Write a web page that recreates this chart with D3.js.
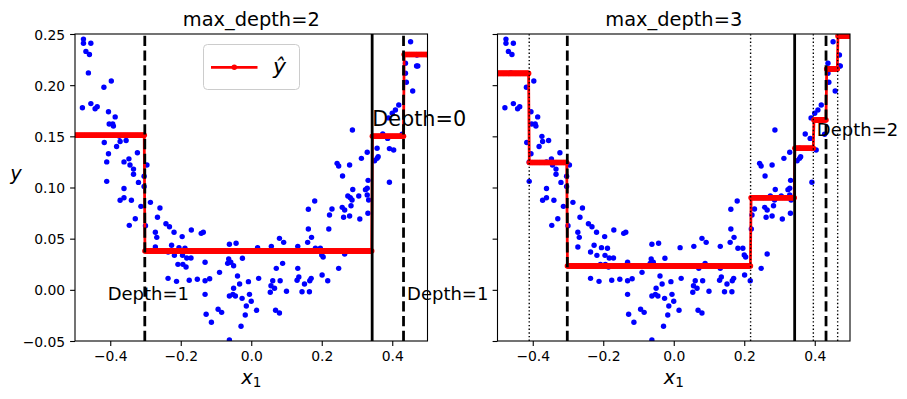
<!DOCTYPE html>
<html><head><meta charset="utf-8">
<script src="https://cdn.jsdelivr.net/npm/d3@7"></script>
<style>body{margin:0;background:#fff}svg{display:block}</style>
</head><body><svg id="c" width="907" height="399"></svg>
<script>
// ---------- data ----------
const xTicks = [-0.4, -0.2, 0, 0.2, 0.4];
const xTickLabels = ["\u22120.4", "\u22120.2", "0.0", "0.2", "0.4"];
const yTicks = [-0.05, 0, 0.05, 0.1, 0.15, 0.2, 0.25];
const yTickLabels = ["\u22120.05", "0.00", "0.05", "0.10", "0.15", "0.20", "0.25"];
const titles = ["max_depth=2", "max_depth=3"];

const pointsX = [
 -0.476,-0.476,-0.455,-0.469,-0.459,-0.462,-0.397,-0.418,-0.479,-0.455,-0.443,-0.437,-0.405,-0.386,-0.403,-0.393,-0.391,-0.417,-0.372,-0.355,-0.382,-0.405,-0.323,-0.410,-0.361,-0.347,-0.344,-0.334,-0.334,-0.296,-0.410,-0.320,-0.361,-0.304,-0.304,-0.374,
 -0.372,-0.361,-0.340,-0.313,-0.286,-0.259,-0.329,-0.346,-0.266,-0.300,-0.242,-0.232,-0.272,-0.268,-0.219,-0.196,-0.170,-0.272,-0.226,-0.205,-0.188,-0.218,-0.195,-0.183,-0.171,-0.208,-0.194,-0.185,-0.236,-0.212,-0.176,-0.236,
 -0.142,-0.136,-0.131,-0.153,-0.131,-0.118,-0.131,-0.090,-0.062,-0.043,-0.025,-0.064,-0.067,-0.058,-0.050,-0.039,-0.033,-0.050,-0.062,-0.052,-0.045,-0.026,-0.008,-0.005,0.000,-0.014,-0.128,-0.113,-0.094,-0.084,-0.029,-0.062,-0.017,0.015,0.021,0.018,0.057,0.080,0.092,0.071,0.089,0.061,0.056,0.066,0.054,0.082,0.100,0.069,0.080,0.132,0.132,0.135,0.130,0.144,0.151,0.165,0.166,0.170,0.160,0.171,0.162,0.162,0.180,0.182,
 0.288,0.324,0.329,0.274,0.281,0.305,0.286,0.329,0.333,0.229,0.222,0.258,0.265,0.262,0.279,0.283,0.308,0.331,0.220,0.200,0.204,0.196,0.265,0.248,0.201,0.217,
 0.452,0.4375,0.469,0.4725,0.4375,0.440,0.458,0.4185,0.409,0.400,0.287,0.373,0.357,0.392,0.404,0.329,0.3125,0.357,0.360,0.350,0.2435,0.248,0.279,0.259,0.392,0.3315,
 0.470,0.3895,0.387,0.428
];
const pointsY = [
 0.245,0.241,0.241,0.233,0.230,0.212,0.204,0.198,0.178,0.182,0.177,0.179,0.174,0.169,0.162,0.162,0.160,0.144,0.145,0.146,0.140,0.133,0.134,0.125,0.125,0.128,0.122,0.118,0.113,0.122,0.106,0.105,0.099,0.111,0.101,0.150,
 0.0875,0.090,0.0875,0.0816,0.0855,0.080,0.0695,0.063,0.071,0.0627,0.0646,0.0617,0.0562,0.0513,0.0562,0.052,0.0585,0.0419,0.0435,0.0412,0.0406,0.0337,0.0337,0.0311,0.0311,0.0249,0.0249,0.0223,0.0112,0.0083,0.0093,0.037,
 0.0552,0.0562,0.0269,0.0103,0.0089,0.0109,-0.0044,0.0171,0.0445,0.0455,0.0308,0.0301,0.0259,0.0269,0.0236,0.0135,0.0057,0.0015,-0.006,-0.0044,-0.006,-0.0083,0.008,-0.0044,-0.0112,-0.0158,-0.0239,-0.0317,-0.019,-0.022,-0.0356,-0.049,-0.0246,-0.020,0.0112,0.0412,0.0425,0.0503,0.0464,0.021,0.0259,0.0089,0.004,0.0015,-0.0024,0.0089,-0.0014,-0.020,-0.0226,0.0425,0.021,0.0125,0.0093,-0.0018,0.0057,-0.0018,0.0089,0.0112,0.0464,0.0513,0.0594,0.0787,0.0868,0.0406,
 0.098,0.0979,0.0992,0.0917,0.090,0.0917,0.0878,0.0927,0.0878,0.079,0.0731,0.0806,0.078,0.071,0.0722,0.0822,0.0692,0.0748,0.0594,0.034,0.0321,0.0406,0.035,0.021,0.0145,0.0089,
 0.2425,0.2214,0.2187,0.2187,0.2116,0.2028,0.1943,0.1806,0.1757,0.1725,0.1562,0.1523,0.1383,0.138,0.1367,0.1344,0.1285,0.1285,0.130,0.1262,0.1236,0.121,0.122,0.1112,0.1051,0.107,
 0.2295,0.168,0.148,0.152
];

// tree splits and leaf values
const depth2Thresholds = [-0.302, 0.343, 0.432];
const depth2Values = [0.151, 0.038, 0.150, 0.230];
const depth3Thresholds = [-0.410, -0.302, 0.218, 0.343, 0.396, 0.432, 0.465];
const depth3Values = [0.2115, 0.1245, 0.0233, 0.090, 0.1383, 0.166, 0.2158, 0.248];
const mainSplits = [0.343, -0.302, 0.432];         // th0, th1a, th1b
const mainSplitStyles = ["solid", "dashed", "dashed"];
const depth2Splits = [-0.410, 0.218, 0.396, 0.465];

// ---------- drawing ----------
const svg = d3.select("#c");
const FONT = "DejaVu Sans, Verdana, sans-serif";
const TOPY = 34, BOTY = 341, W = 352.5;
const panels = [{x0: 75, thr: depth2Thresholds, val: depth2Values},
                {x0: 497.5, thr: depth3Thresholds, val: depth3Values}];

const y = d3.scaleLinear().domain([-0.05, 0.25]).range([BOTY, TOPY]);
const samples = d3.range(500).map(i => -0.5 + i / 499);

panels.forEach((p, k) => {
  const x = d3.scaleLinear().domain([-0.5, 0.5]).range([p.x0, p.x0 + W]);
  const g = svg.append("g");
  const clipId = "clip" + k;
  svg.append("clipPath").attr("id", clipId).append("rect")
     .attr("x", p.x0).attr("y", TOPY).attr("width", W).attr("height", BOTY - TOPY);
  const plot = g.append("g").attr("clip-path", `url(#${clipId})`);

  plot.selectAll("circle.pt").data(pointsX).join("circle").attr("class", "pt")
     .attr("cx", d => x(d)).attr("cy", (d, i) => y(pointsY[i])).attr("r", 2.7).attr("fill", "#0000ff");

  const pred = samples.map(s => [s, p.val[d3.bisectRight(p.thr, s)]]);
  plot.append("path").attr("d", d3.line().x(d => x(d[0])).y(d => y(d[1]))(pred))
     .attr("fill", "none").attr("stroke", "#ff0000").attr("stroke-width", 2.78);
  plot.selectAll("circle.pr").data(pred).join("circle").attr("class", "pr")
     .attr("cx", d => x(d[0])).attr("cy", d => y(d[1])).attr("r", 2.78).attr("fill", "#ff0000");

  mainSplits.forEach((s, i) => {
    plot.append("line").attr("x1", x(s)).attr("x2", x(s)).attr("y1", y(-0.05)).attr("y2", y(0.25))
      .attr("stroke", "#000").attr("stroke-width", 2.78)
      .attr("stroke-dasharray", mainSplitStyles[i] === "dashed" ? "10.3,4.45" : null);
  });
  if (k === 1) {
    depth2Splits.forEach(s => {
      plot.append("line").attr("x1", x(s)).attr("x2", x(s)).attr("y1", y(-0.05)).attr("y2", y(0.25))
        .attr("stroke", "#000").attr("stroke-width", 1.39).attr("stroke-dasharray", "1.39,2.29");
    });
  }

  g.append("rect").attr("x", p.x0).attr("y", TOPY).attr("width", W).attr("height", BOTY - TOPY)
    .attr("fill", "none").attr("stroke", "#000").attr("stroke-width", 1.1);

  const xa = g.append("g").attr("transform", `translate(0,${BOTY})`)
    .call(d3.axisBottom(x).tickValues(xTicks).tickSize(4.9).tickPadding(4.9)
      .tickFormat((d, i) => xTickLabels[i]));
  const ya = g.append("g").attr("transform", `translate(${p.x0},0)`)
    .call(d3.axisLeft(y).tickValues(yTicks).tickSize(4.9).tickPadding(4.9)
      .tickFormat((d, i) => k === 0 ? yTickLabels[i] : ""));
  [xa, ya].forEach(a => {
    a.select(".domain").remove();
    a.selectAll("line").attr("stroke-width", 1.1);
    a.selectAll("text").attr("font-family", FONT).attr("font-size", 13.9).attr("fill", "#000");
  });
  ya.selectAll("text").attr("dy", "0.36em");

  g.append("text").attr("x", p.x0 + W / 2).attr("y", 25.5).attr("text-anchor", "middle")
    .attr("font-family", FONT).attr("font-size", 19.4).text(titles[k]);

  const xl = g.append("text").attr("x", p.x0 + W / 2).attr("y", 384).attr("text-anchor", "middle")
    .attr("font-family", FONT).attr("font-size", 19.4);
  xl.append("tspan").attr("font-style", "italic").text("x");
  xl.append("tspan").attr("font-size", 13.6).attr("dy", 3).text("1");

  if (k === 0) {
    svg.append("text").attr("x", 16).attr("y", 180).attr("text-anchor", "middle")
      .attr("font-family", FONT).attr("font-size", 19.4).attr("font-style", "italic").text("y");
    g.append("text").attr("x", x(mainSplits[0])).attr("y", y(0.16))
      .attr("font-family", FONT).attr("font-size", 20.8).text("Depth=0");
    g.append("text").attr("x", x(mainSplits[1] + 0.01)).attr("y", y(-0.01)).attr("text-anchor", "middle")
      .attr("font-family", FONT).attr("font-size", 18).text("Depth=1");
    g.append("text").attr("x", x(mainSplits[2] + 0.01)).attr("y", y(-0.01))
      .attr("font-family", FONT).attr("font-size", 18).text("Depth=1");
    const lg = g.append("g");
    lg.append("rect").attr("x", 203.5).attr("y", 44.5).attr("width", 96).attr("height", 45).attr("rx", 4)
      .attr("fill", "#fff").attr("fill-opacity", 0.8).attr("stroke", "#cccccc").attr("stroke-width", 1);
    lg.append("line").attr("x1", 211).attr("x2", 257.5).attr("y1", 67.3).attr("y2", 67.3)
      .attr("stroke", "#ff0000").attr("stroke-width", 2.78);
    lg.append("circle").attr("cx", 234.3).attr("cy", 67.3).attr("r", 2.78).attr("fill", "#ff0000");
    lg.append("text").attr("x", 273).attr("y", 73.5).attr("font-family", FONT).attr("font-size", 22)
      .attr("font-style", "italic").text("\u0177");
  } else {
    g.append("text").attr("x", x(depth2Splits[2] + 0.01)).attr("y", y(0.15))
      .attr("font-family", FONT).attr("font-size", 18).text("Depth=2");
  }
});
</script></body></html>
